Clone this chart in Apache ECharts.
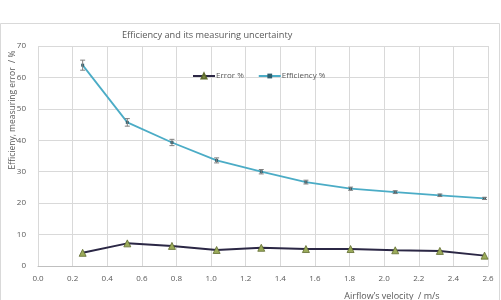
<!DOCTYPE html>
<html>
<head>
<meta charset="utf-8">
<script src="https://cdn.jsdelivr.net/npm/echarts@6/dist/echarts.min.js"></script>
<style>
  html, body { margin: 0; padding: 0; background: #fff; }
  #chart { width: 501px; height: 300px; }
</style>
</head>
<body>
<div id="chart"></div>
<script>
// airflow velocity, m/s
var velocity = [0.258, 0.516, 0.774, 1.032, 1.29, 1.548, 1.806, 2.064, 2.322, 2.58];
// efficiency, %
var efficiency = [63.9, 45.7, 39.3, 33.6, 30.0, 26.7, 24.6, 23.5, 22.5, 21.5];
// uncertainty of efficiency (+/-), %
var effUncert = [1.6, 1.2, 1.0, 0.8, 0.7, 0.6, 0.5, 0.45, 0.4, 0.35];
// measuring error, %
var errorPct = [4.2, 7.2, 6.4, 5.1, 5.8, 5.4, 5.4, 5.0, 4.8, 3.3];

var chart = echarts.init(document.getElementById('chart'));

function pairs(ys) {
  var rs = [];
  for (var i = 0; i < velocity.length; i++) rs.push([velocity[i], ys[i]]);
  return rs;
}

var barData = [];
for (var i = 0; i < velocity.length; i++) {
  barData.push([velocity[i], efficiency[i] - effUncert[i], efficiency[i] + effUncert[i]]);
}

var labelColor = '#595959';

chart.setOption({
  backgroundColor: '#fff',
  animation: false,
  textStyle: { fontFamily: 'Open Sans' },
  title: {
    text: 'Efficiency and its measuring uncertainty',
    left: 117,
    top: 26,
    textStyle: { fontSize: 9.2, fontWeight: 'normal', color: labelColor, fontFamily: 'Open Sans' }
  },
  legend: {
    left: 187,
    top: 67,
    itemWidth: 22,
    itemHeight: 6,
    itemGap: 14,
    textStyle: { fontSize: 8, color: labelColor, padding: [0, 0, 0, -4] },
    data: ['Error %', 'Efficiency %']
  },
  grid: { left: 38, right: 13, top: 46, bottom: 34 },
  xAxis: {
    type: 'value',
    min: 0,
    max: 2.6,
    interval: 0.2,
    axisLine: { show: true, lineStyle: { color: '#bfbfbf' } },
    axisTick: { show: false },
    axisLabel: {
      fontSize: 8, color: labelColor, margin: 9,
      formatter: function (v) { return v.toFixed(1); }
    },
    splitLine: { show: true, lineStyle: { color: '#d9d9d9' } }
  },
  yAxis: {
    type: 'value',
    min: 0,
    max: 70,
    interval: 10,
    axisLine: { show: false },
    axisTick: { show: false },
    axisLabel: { fontSize: 8, color: labelColor, margin: 12 },
    splitLine: { show: true, lineStyle: { color: '#d9d9d9' } }
  },
  graphic: [
    {
      type: 'rect',
      silent: true,
      shape: { x: 0.5, y: 23.5, width: 499, height: 290 },
      style: { fill: 'none', stroke: '#d9d9d9', lineWidth: 1 }
    },
    {
      type: 'text',
      x: 13,
      y: 110,
      rotation: Math.PI / 2,
      style: {
        text: 'Efficieny, measuring error  / %',
        fontSize: 8.5, fill: labelColor, fontFamily: 'Open Sans',
        textAlign: 'center', textVerticalAlign: 'middle'
      }
    },
    {
      type: 'text',
      x: 392,
      y: 296,
      style: {
        text: 'Airflow\u2019s velocity  / m/s',
        fontSize: 9, fill: labelColor, fontFamily: 'Open Sans',
        textAlign: 'center', textVerticalAlign: 'middle'
      }
    }
  ],
  series: [
    {
      name: 'Error %',
      type: 'line',
      data: pairs(errorPct),
      symbol: 'triangle',
      symbolSize: 7,
      lineStyle: { color: '#2b2745', width: 2 },
      itemStyle: { color: '#9bab5a', borderColor: '#5f6b2e', borderWidth: 0.8 },
      z: 3
    },
    {
      name: 'Efficiency %',
      type: 'line',
      data: pairs(efficiency),
      symbol: 'rect',
      symbolSize: 3,
      lineStyle: { color: '#4bacc6', width: 1.8 },
      itemStyle: { color: '#2e5f6e', borderWidth: 0 },
      z: 3
    },
    {
      type: 'custom',
      name: 'uncertainty',
      data: barData,
      z: 4,
      renderItem: function (params, api) {
        var lo = api.coord([api.value(0), api.value(1)]);
        var hi = api.coord([api.value(0), api.value(2)]);
        var w = 2.5;
        var st = { stroke: '#7f7f7f', lineWidth: 1 };
        return {
          type: 'group',
          children: [
            { type: 'line', shape: { x1: lo[0], y1: lo[1], x2: hi[0], y2: hi[1] }, style: st },
            { type: 'line', shape: { x1: lo[0] - w, y1: lo[1], x2: lo[0] + w, y2: lo[1] }, style: st },
            { type: 'line', shape: { x1: hi[0] - w, y1: hi[1], x2: hi[0] + w, y2: hi[1] }, style: st }
          ]
        };
      }
    }
  ]
});
</script>
</body>
</html>
